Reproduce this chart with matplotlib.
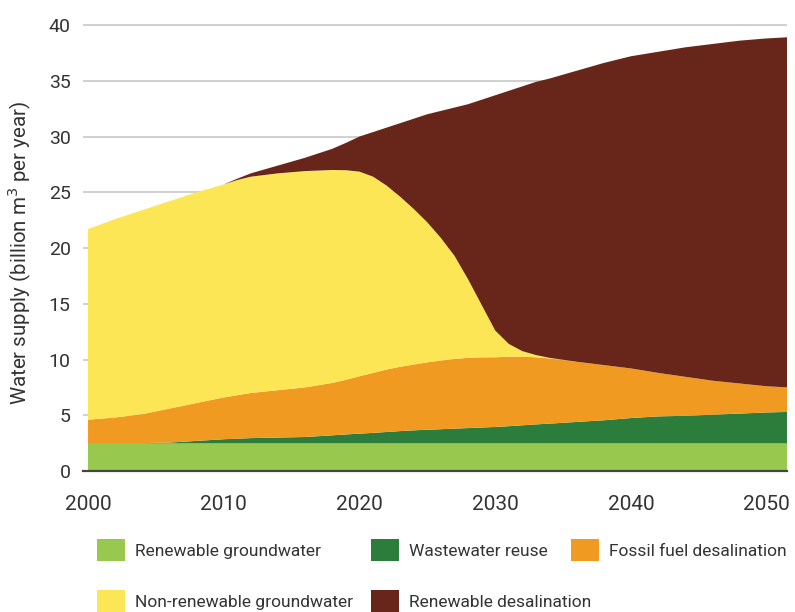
import matplotlib
matplotlib.use("Agg")
import matplotlib.pyplot as plt
import numpy as np

plt.rcParams['font.family'] = ['Roboto', 'DejaVu Sans']

years = [2000, 2002, 2004, 2006, 2008, 2010, 2011, 2012, 2014, 2016, 2018, 2019, 2020,
         2021, 2022, 2023, 2024, 2025, 2026, 2027, 2028, 2029, 2030, 2031,
         2032, 2033, 2034, 2036, 2038, 2040, 2042, 2044, 2046, 2048, 2050, 2051.5]

renewable_gw = [2.5] * len(years)
wastewater = [0, 0, 0, 0.05, 0.2, 0.35, 0.4, 0.45, 0.5, 0.55, 0.7, 0.78, 0.85,
              0.92, 1.0, 1.08, 1.15, 1.2, 1.25, 1.3, 1.35, 1.4, 1.45, 1.52,
              1.6, 1.68, 1.75, 1.9, 2.05, 2.25, 2.4, 2.45, 2.55, 2.65, 2.75, 2.8]
fossil_desal = [2.1, 2.3, 2.6, 3.05, 3.4, 3.75, 3.9, 4.05, 4.25, 4.45, 4.7, 4.9, 5.15,
                5.38, 5.6, 5.77, 5.9, 6.05, 6.15, 6.25, 6.3, 6.3, 6.25, 6.23,
                6.15, 6.02, 5.85, 5.4, 4.95, 4.45, 3.9, 3.5, 3.05, 2.7, 2.35, 2.2]
nonrenewable_gw = [17.1, 17.8, 18.3, 18.6, 18.9, 19.1, 19.3, 19.4, 19.45, 19.4, 19.1, 18.8, 18.35,
                   17.6, 16.5, 15.25, 13.95, 12.55, 11.0, 9.25, 7.05, 4.7, 2.4, 1.15,
                   0.5, 0.2, 0.05, 0, 0, 0, 0, 0, 0, 0, 0, 0]
renewable_desal = [0, 0, 0, 0, 0, 0, 0.12, 0.3, 0.7, 1.2, 1.9, 2.45, 3.15,
                   4.0, 5.2, 6.6, 8.1, 9.7, 11.4, 13.3, 15.7, 18.4, 21.1, 22.7,
                   23.75, 24.5, 25.05, 26.1, 27.1, 28.0, 28.8, 29.55, 30.2, 30.75, 31.2, 31.4]

labels = ["Renewable groundwater", "Wastewater reuse", "Fossil fuel desalination",
          "Non-renewable groundwater", "Renewable desalination"]
colors = ["#98C84D", "#2C7D3C", "#F09A22", "#FCE655", "#68261A"]

yticks = [0, 5, 10, 15, 20, 25, 30, 35, 40]
xticks = [2000, 2010, 2020, 2030, 2040, 2050]

W, H = 795, 612
fig = plt.figure(figsize=(W / 100, H / 100), dpi=100)
ax = fig.add_axes([83 / W, (H - 471) / H, 704 / W, 449.3 / H])

polys = ax.stackplot(years, renewable_gw, wastewater, fossil_desal,
                     nonrenewable_gw, renewable_desal,
                     colors=colors, labels=labels, linewidth=0, zorder=2)

ax.set_xlim(1999.63, 2051.5)
ax.set_ylim(0, 40.3)
ax.set_yticks(yticks)
ax.set_xticks(xticks)
ax.yaxis.grid(True, color="#c8c8c8", linewidth=1.2, zorder=0)
ax.set_axisbelow(True)
for s in ["top", "right", "left"]:
    ax.spines[s].set_visible(False)
ax.spines["bottom"].set_color("#444444")
ax.spines["bottom"].set_linewidth(1.6)
ax.spines["bottom"].set_zorder(5)

ax.tick_params(axis="y", length=0, pad=8.9, labelsize=14, labelcolor="#333333")
ax.tick_params(axis="x", length=0, pad=17.5, labelsize=15, labelcolor="#333333")

ax.set_ylabel("Water supply (billion m$^3$ per year)", fontsize=14.8, color="#333333")
ax.yaxis.set_label_coords(-0.071, 0.485)

# legend entries positioned like the reference (two rows)
positions = [(97, 550), (371, 550), (571, 550), (97, 601), (371, 601)]
for poly, lab, (px, py) in zip(polys, labels, positions):
    leg = fig.legend([poly], [lab], loc="center left",
                     bbox_to_anchor=(px / W, 1 - py / H),
                     frameon=False, fontsize=12.5, borderpad=0, borderaxespad=0,
                     handlelength=1.61, handleheight=1.5, handletextpad=0.57)
    for t in leg.get_texts():
        t.set_color("#333333")

fig.savefig("out.png", dpi=100)
